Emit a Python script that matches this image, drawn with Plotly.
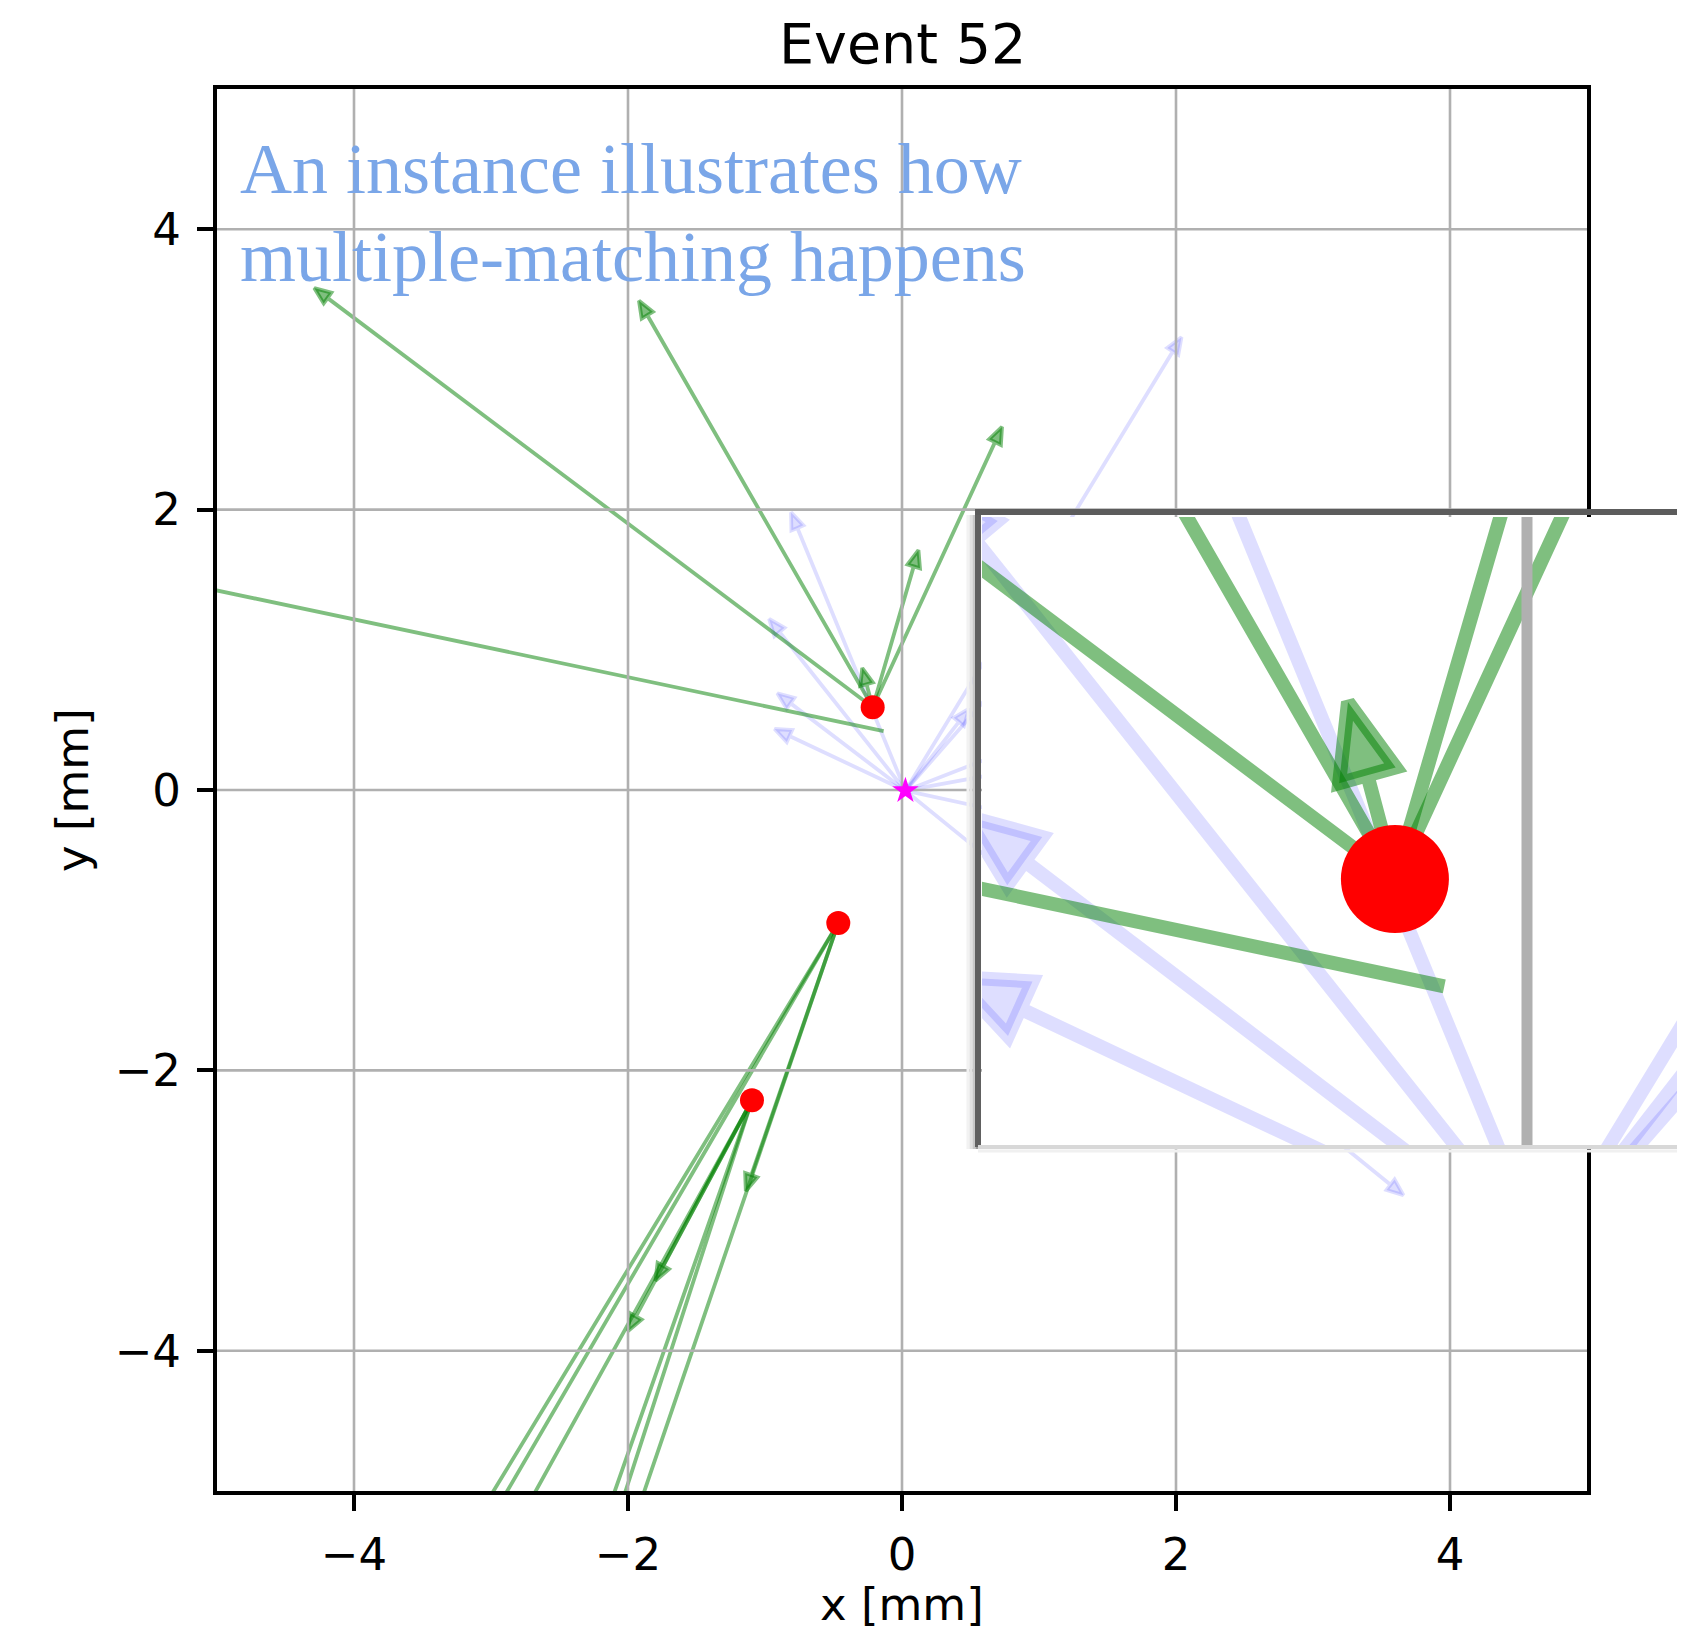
import numpy as np
import plotly.graph_objects as go

# page is rendered with the default 8px body margin, so the figure is made
# 8px smaller and every pixel position is given in page coordinates
PAGE_W, PAGE_H = 1685, 1631
OFF = 8
W, H = PAGE_W - OFF, PAGE_H - OFF

# ---------------- text ----------------
title_text = "Event 52"
x_label = "x [mm]"
y_label = "y [mm]"
note_lines = ["An instance illustrates how", "multiple-matching happens"]
tick_vals = [-4, -2, 0, 2, 4]
tick_text = ["\u22124", "\u22122", "0", "2", "4"]
axis_range = [-5, 5]

# ---------------- data ----------------
# reconstructed vertices (red dots)
vtx_x = [-0.214, -0.465, -1.095]
vtx_y = [0.590, -0.948, -2.213]

# primary vertex (magenta star)
pv_x = [0.025]
pv_y = [-0.005]

# matched tracks (green arrows): start -> end
trk_x0 = [-0.214, -0.214, -0.214, -0.214, -0.214, -0.134,
          -0.465, -0.465, -0.465, -0.465,
          -1.095, -1.095, -1.095, -1.095, -1.095]
trk_y0 = [0.590, 0.590, 0.590, 0.590, 0.590, 0.420,
          -0.948, -0.948, -0.948, -0.948,
          -2.213, -2.213, -2.213, -2.213, -2.213]
trk_x1 = [-4.29, -1.92, 0.73, 0.12, -0.29, -5.30,
          -3.23, -3.12, -1.14, -2.02,
          -1.80, -2.00, -2.90, -2.24, -2.15]
trk_y1 = [3.58, 3.49, 2.59, 1.71, 0.87, 1.485,
          -5.40, -5.40, -2.86, -5.40,
          -3.50, -3.86, -5.40, -5.40, -5.40]

# all tracks (faint blue arrows) from the primary vertex
all_x1 = [2.04, -0.81, -0.97, -0.91, -0.93, 0.49, 3.66, 1.60, 1.80, 2.00, 1.70]
all_y1 = [3.23, 1.98, 1.22, 0.69, 0.435, 0.58, -2.89, 1.75, 0.67, 0.35, -0.36]

# inset (magnified view around the upper vertex)
inset_xrange = [-0.883, 0.256]
inset_yrange = [0.169, 1.163]

# ---------------- style ----------------
GREEN = "rgba(0,128,0,0.5)"
BLUE = "rgba(0,0,255,0.13)"
LW_MAIN, LW_INSET = 3.8, 14
GRID_MAIN, GRID_INSET = 2.6, 11
DOT_MAIN, DOT_INSET = 24, 108
STAR_MAIN, STAR_INSET = 20, 90
HEAD_W = 0.095
HEAD_L = 0.12

main_px = [217, 1587, 89, 1491]        # left, right, top, bottom (page pixels)
inset_px = [982, PAGE_W, 517, 1145]


def px_x(p):
    return (p - OFF) / W


def px_y(p):
    return 1 - (p - OFF) / H


def arrow_path(x0, y0, x1, y1, hw=HEAD_W, hl=HEAD_L):
    dx, dy = x1 - x0, y1 - y0
    L = float(np.hypot(dx, dy))
    ux, uy = dx / L, dy / L
    nx, ny = -uy, ux
    bx, by = x1 - ux * hl, y1 - uy * hl
    xs = [x0, bx, bx + nx * hw / 2, x1, bx - nx * hw / 2, bx, x0]
    ys = [y0, by, by + ny * hw / 2, y1, by - ny * hw / 2, by, y0]
    return xs, ys


fig = go.Figure()


def add_layer(xa, ya, lw, gw, dot, star):
    # faint blue arrows (all tracks)
    for ex, ey in zip(all_x1, all_y1):
        xs, ys = arrow_path(pv_x[0], pv_y[0], ex, ey)
        fig.add_trace(go.Scatter(x=xs, y=ys, mode="lines", fill="toself",
                                 fillcolor=BLUE, line=dict(color=BLUE, width=lw),
                                 xaxis=xa, yaxis=ya, hoverinfo="skip", showlegend=False))
    # green arrows (matched tracks)
    for sx, sy, ex, ey in zip(trk_x0, trk_y0, trk_x1, trk_y1):
        xs, ys = arrow_path(sx, sy, ex, ey)
        fig.add_trace(go.Scatter(x=xs, y=ys, mode="lines", fill="toself",
                                 fillcolor=GREEN, line=dict(color=GREEN, width=lw),
                                 xaxis=xa, yaxis=ya, hoverinfo="skip", showlegend=False))
    # grid lines (drawn above the arrow patches, like matplotlib)
    for v in tick_vals:
        fig.add_trace(go.Scatter(x=[v, v], y=axis_range, mode="lines",
                                 line=dict(color="#b0b0b0", width=gw),
                                 xaxis=xa, yaxis=ya, hoverinfo="skip", showlegend=False))
        fig.add_trace(go.Scatter(x=axis_range, y=[v, v], mode="lines",
                                 line=dict(color="#b0b0b0", width=gw),
                                 xaxis=xa, yaxis=ya, hoverinfo="skip", showlegend=False))
    # reconstructed vertices
    fig.add_trace(go.Scatter(x=vtx_x, y=vtx_y, mode="markers",
                             marker=dict(color="red", size=dot, line=dict(width=0)),
                             xaxis=xa, yaxis=ya, hoverinfo="skip", showlegend=False))
    # primary vertex
    fig.add_trace(go.Scatter(x=pv_x, y=pv_y, mode="markers",
                             marker=dict(color="magenta", symbol="star", size=star,
                                         line=dict(width=0)),
                             xaxis=xa, yaxis=ya, hoverinfo="skip", showlegend=False))


add_layer("x", "y", LW_MAIN, GRID_MAIN, DOT_MAIN, STAR_MAIN)
add_layer("x2", "y2", LW_INSET, GRID_INSET, DOT_INSET, STAR_INSET)

tick_font = dict(family="DejaVu Sans", size=45, color="black")

common = dict(range=axis_range, tickvals=tick_vals, ticktext=tick_text, ticks="outside",
              ticklen=16, tickwidth=4, tickcolor="black", showline=True, linewidth=4,
              linecolor="black", mirror=True, showgrid=False, zeroline=False,
              tickfont=tick_font, automargin=False, fixedrange=True)

inset_common = dict(showticklabels=False, ticks="", showline=False, showgrid=False,
                    zeroline=False, automargin=False, fixedrange=True)

fig.update_layout(
    width=W, height=H, autosize=False,
    margin=dict(l=0, r=0, t=0, b=0, pad=0),
    paper_bgcolor="white", plot_bgcolor="white", showlegend=False,
    xaxis=dict(domain=[px_x(main_px[0]), px_x(main_px[1])], anchor="y",
               ticklabelstandoff=5, **common),
    yaxis=dict(domain=[px_y(main_px[3]), px_y(main_px[2])], anchor="x",
               ticklabelstandoff=7, **common),
    xaxis2=dict(domain=[px_x(inset_px[0]), px_x(inset_px[1])], range=inset_xrange,
                anchor="y2", **inset_common),
    yaxis2=dict(domain=[px_y(inset_px[3]), px_y(inset_px[2])], range=inset_yrange,
                anchor="x2", **inset_common),
)

annotations = [
    dict(text=title_text, x=px_x(902), y=px_y(43), xref="paper", yref="paper",
         xanchor="center", yanchor="middle", showarrow=False,
         font=dict(family="DejaVu Sans", size=55.5, color="black")),
    dict(text=x_label, x=px_x(902), y=px_y(1604), xref="paper", yref="paper",
         xanchor="center", yanchor="middle", showarrow=False,
         font=dict(family="DejaVu Sans", size=45, color="black")),
    dict(text=y_label, x=px_x(73), y=px_y(790), xref="paper", yref="paper",
         xanchor="center", yanchor="middle", showarrow=False, textangle=-90,
         font=dict(family="DejaVu Sans", size=45, color="black")),
    dict(text=note_lines[0], x=px_x(238), y=px_y(169), xref="paper", yref="paper",
         xanchor="left", yanchor="middle", showarrow=False,
         font=dict(family="Liberation Serif", size=72, color="#7aa6e8")),
    dict(text=note_lines[1], x=px_x(238), y=px_y(257), xref="paper", yref="paper",
         xanchor="left", yanchor="middle", showarrow=False,
         font=dict(family="Liberation Serif", size=72, color="#7aa6e8")),
]
fig.update_layout(annotations=annotations)

# inset frame with soft shadow
shapes = []
for off, col in [(13, "#f2f2f2"), (10, "#e2e2e2"), (7, "#c8c8c8"), (4, "#9a9a9a")]:
    shapes.append(dict(type="line", xref="paper", yref="paper",
                       x0=px_x(inset_px[0] - off - 1), x1=px_x(inset_px[0] - off - 1),
                       y0=px_y(inset_px[2] - 2), y1=px_y(inset_px[3] + 4),
                       line=dict(color=col, width=3), layer="above"))
shapes.append(dict(type="line", xref="paper", yref="paper",
                   x0=px_x(inset_px[0] - 4), x1=px_x(inset_px[0] - 4),
                   y0=px_y(inset_px[2] - 8), y1=px_y(inset_px[3] + 2),
                   line=dict(color="#606060", width=6), layer="above"))
shapes.append(dict(type="line", xref="paper", yref="paper",
                   x0=px_x(inset_px[0] - 7), x1=px_x(PAGE_W),
                   y0=px_y(inset_px[2] - 5), y1=px_y(inset_px[2] - 5),
                   line=dict(color="#5c5c5c", width=6), layer="above"))
shapes.append(dict(type="line", xref="paper", yref="paper",
                   x0=px_x(inset_px[0] - 4), x1=px_x(PAGE_W),
                   y0=px_y(inset_px[3] + 2), y1=px_y(inset_px[3] + 2),
                   line=dict(color="#d8d8d8", width=4), layer="above"))
shapes.append(dict(type="line", xref="paper", yref="paper",
                   x0=px_x(inset_px[0] - 4), x1=px_x(PAGE_W),
                   y0=px_y(inset_px[3] + 6), y1=px_y(inset_px[3] + 6),
                   line=dict(color="#f0f0f0", width=3), layer="above"))
fig.update_layout(shapes=shapes)

fig.write_html("out.html")
